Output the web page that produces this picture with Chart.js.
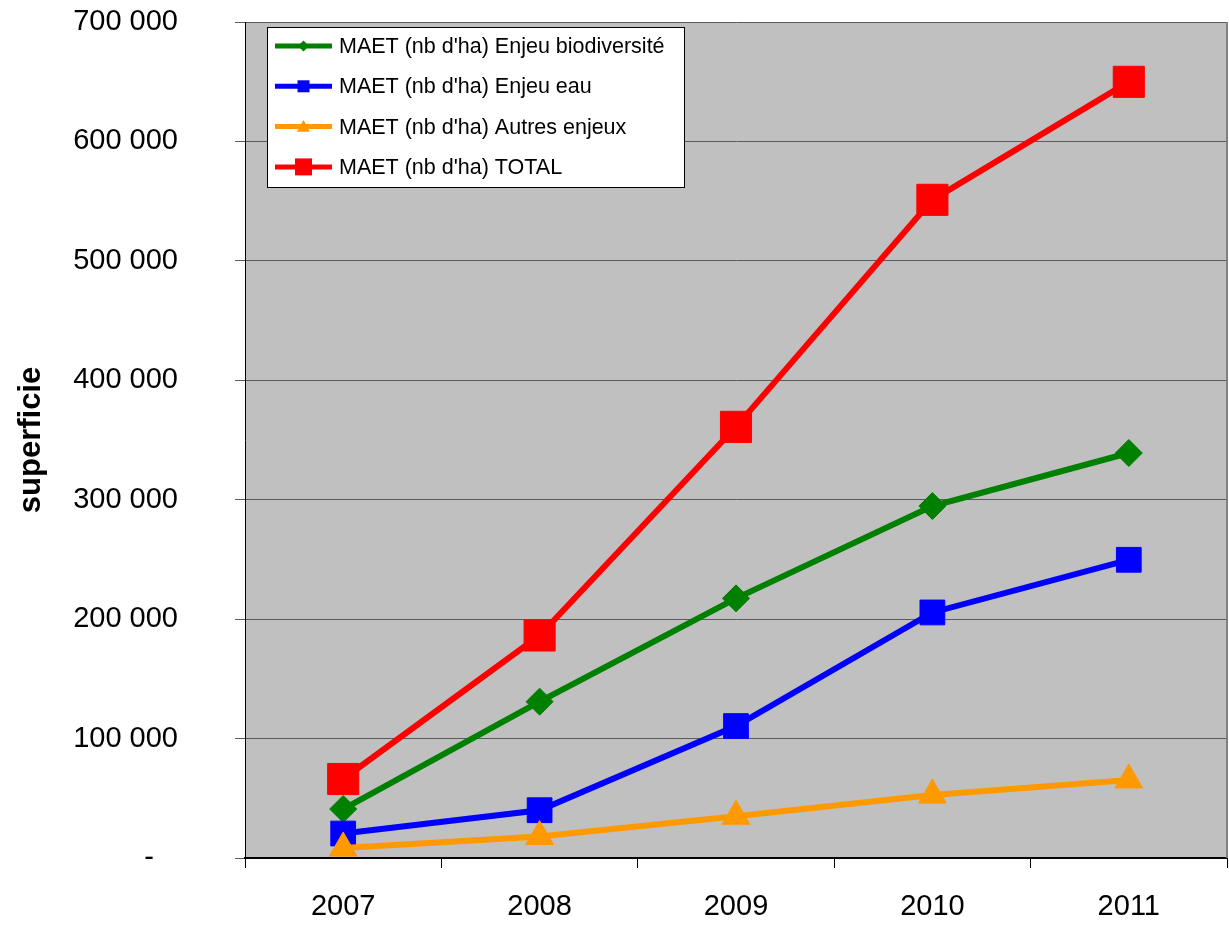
<!DOCTYPE html>
<html>
<head>
<meta charset="utf-8">
<script src="https://cdn.jsdelivr.net/npm/chart.js@4.4.1/dist/chart.umd.min.js"></script>
<style>
  html, body { margin: 0; padding: 0; background: #ffffff; }
  #wrap { width: 1229px; height: 931px; }
</style>
</head>
<body>
<div id="wrap"><canvas id="c" width="1229" height="931"></canvas></div>
<script>
const years = ['2007', '2008', '2009', '2010', '2011'];
const biodiversite = [41000, 130900, 217400, 294700, 339100];
const eau = [20500, 40000, 110500, 205600, 249700];
const autres = [8300, 18000, 35000, 52700, 65300];
const total = [66150, 186300, 361000, 551100, 649900];
const seriesNames = [
  "MAET (nb d'ha) Enjeu biodiversité",
  "MAET (nb d'ha) Enjeu eau",
  "MAET (nb d'ha) Autres enjeux",
  "MAET (nb d'ha) TOTAL"
];
const yTickValues = [0, 100000, 200000, 300000, 400000, 500000, 600000, 700000];

const FONT = "'Liberation Sans', Arial, sans-serif";

function fmt(v) {
  if (v === 0) return '-   ';
  return String(v).replace(/\B(?=(\d{3})+(?!\d))/g, ' ');
}

const bgPlugin = {
  id: 'bg',
  beforeDraw(chart) {
    const {ctx, chartArea: a} = chart;
    ctx.save();
    ctx.fillStyle = '#ffffff';
    ctx.fillRect(0, 0, chart.width, chart.height);
    ctx.fillStyle = '#c0c0c0';
    ctx.fillRect(a.left, a.top, a.right - a.left, a.bottom - a.top);
    ctx.restore();
  },
  afterDatasetsDraw(chart) {
    const {ctx, chartArea: a} = chart;
    ctx.save();
    ctx.strokeStyle = '#808080';
    ctx.lineWidth = 2;
    ctx.beginPath();
    ctx.moveTo(a.right, a.top);
    ctx.lineTo(a.right, a.bottom);
    ctx.stroke();
    ctx.restore();
  }
};

function drawMarker(ctx, style, x, y, s, color) {
  ctx.fillStyle = color;
  ctx.beginPath();
  if (style === 'rectRot') {
    ctx.moveTo(x, y - s); ctx.lineTo(x + s, y); ctx.lineTo(x, y + s); ctx.lineTo(x - s, y);
  } else if (style === 'triangle') {
    ctx.moveTo(x, y - s); ctx.lineTo(x + s, y + s * 0.8); ctx.lineTo(x - s, y + s * 0.8);
  } else {
    ctx.rect(x - s, y - s, 2 * s, 2 * s);
  }
  ctx.closePath();
  ctx.fill();
}

const legendPlugin = {
  id: 'insideLegend',
  afterDraw(chart) {
    const ctx = chart.ctx;
    const x0 = 267, y0 = 27, w = 417, h = 160;
    ctx.save();
    ctx.fillStyle = '#ffffff';
    ctx.fillRect(x0, y0, w, h);
    ctx.strokeStyle = '#000000';
    ctx.lineWidth = 1;
    ctx.strokeRect(x0 + 0.5, y0 + 0.5, w, h);
    const legendSizes = [5.5, 6, 6.5, 8.5];
    chart.data.datasets.forEach((ds, i) => {
      const cy = 46 + i * 40.3;
      ctx.strokeStyle = ds.borderColor;
      ctx.lineWidth = 5;
      ctx.beginPath();
      ctx.moveTo(275, cy);
      ctx.lineTo(332, cy);
      ctx.stroke();
      drawMarker(ctx, ds.pointStyle, 303.5, cy, legendSizes[i], ds.borderColor);
      ctx.fillStyle = '#000000';
      ctx.font = '21.5px ' + FONT;
      ctx.textBaseline = 'middle';
      ctx.textAlign = 'left';
      ctx.fillText(ds.label, 339, cy + 1);
    });
    ctx.restore();
  }
};

new Chart(document.getElementById('c'), {
  type: 'line',
  data: {
    labels: years,
    datasets: [
      { label: seriesNames[0], data: biodiversite, borderColor: '#008000', backgroundColor: '#008000',
        pointStyle: 'rectRot', pointRadius: 13.5, pointBorderWidth: 1, pointBackgroundColor: '#008000', pointBorderColor: '#008000', order: 4 },
      { label: seriesNames[1], data: eau, borderColor: '#0000ff', backgroundColor: '#0000ff',
        pointStyle: 'rect', pointRadius: 17.5, pointBorderWidth: 1, pointBackgroundColor: '#0000ff', pointBorderColor: '#0000ff', order: 3 },
      { label: seriesNames[2], data: autres, borderColor: '#ff9900', backgroundColor: '#ff9900',
        pointStyle: 'triangle', pointRadius: 16, pointBorderWidth: 1, pointBackgroundColor: '#ff9900', pointBorderColor: '#ff9900', order: 2 },
      { label: seriesNames[3], data: total, borderColor: '#ff0000', backgroundColor: '#ff0000',
        pointStyle: 'rect', pointRadius: 22, pointBorderWidth: 1, pointBackgroundColor: '#ff0000', pointBorderColor: '#ff0000', order: 1 }
    ]
  },
  options: {
    responsive: false,
    animation: false,
    events: [],
    layout: { autoPadding: false, padding: { top: 22, right: 2, left: 0, bottom: 0 } },
    elements: { line: { borderWidth: 6, tension: 0 } },
    plugins: {
      legend: { display: false },
      tooltip: { enabled: false },
      title: { display: false }
    },
    scales: {
      x: {
        offset: true,
        grid: { offset: true, drawOnChartArea: false, drawTicks: true, tickLength: 10, color: '#000000', lineWidth: 1 },
        border: { color: '#000000', width: 2 },
        ticks: { color: '#000000', font: { family: FONT, size: 29 }, padding: 22, maxRotation: 0 },
        afterFit(scale) { scale.height = 73; scale.paddingLeft = 0; scale.paddingRight = 0; scale.paddingTop = 0; scale.paddingBottom = 0; }
      },
      y: {
        min: 0, max: 700000,
        afterBuildTicks(scale) { scale.ticks = yTickValues.map(v => ({ value: v })); },
        grid: { color: '#5a5a5a', lineWidth: 1, tickLength: 10, drawTicks: true },
        border: { color: '#000000', width: 1 },
        ticks: { color: '#000000', font: { family: FONT, size: 29 }, padding: 57, callback: (v) => fmt(v) },
        title: { display: true, text: 'superficie', color: '#000000', font: { family: FONT, size: 31, weight: 'bold' }, padding: { top: 13, bottom: 0 } },
        afterFit(scale) { scale.width = 245; scale.paddingTop = 0; scale.paddingBottom = 0; scale.paddingLeft = 0; scale.paddingRight = 0; }
      }
    }
  },
  plugins: [bgPlugin, legendPlugin]
});
</script>
</body>
</html>
